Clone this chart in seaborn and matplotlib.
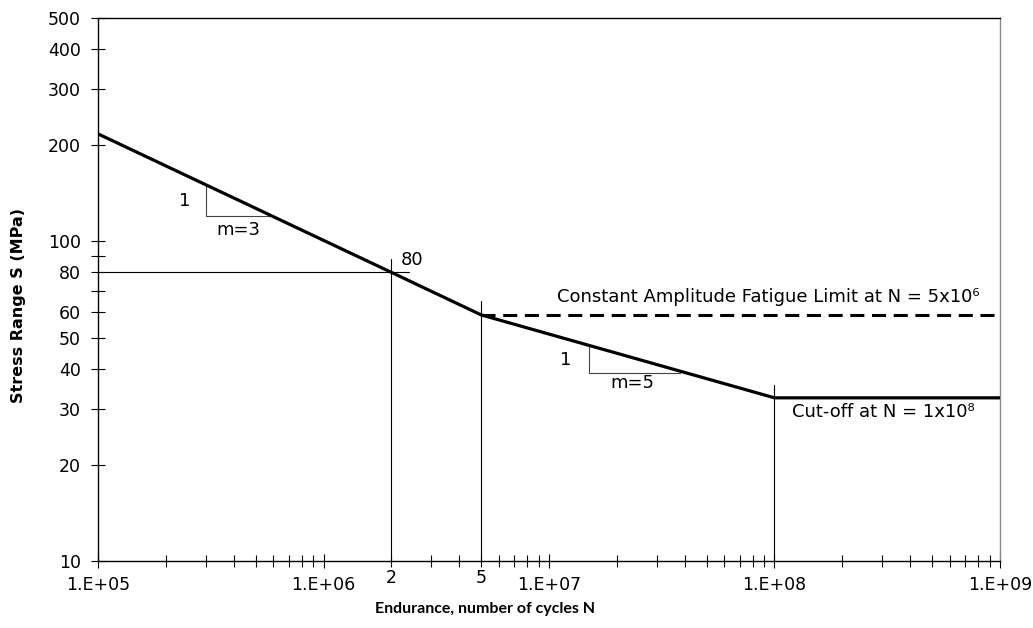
import matplotlib
matplotlib.use("Agg")
import matplotlib.pyplot as plt
import matplotlib.ticker as mticker
from matplotlib import font_manager as fm
import numpy as np
import pandas as pd
import seaborn as sns

# S-N curve values
cycles = [1e5, 2e6, 5e6, 1e8, 1e9]
stress = [217, 80, 58.9, 32.4, 32.4]

cafl_cycles = [5e6, 1e9]
cafl_stress = [58.9, 58.9]

# reference lines (vertical markers) : cycle, top stress
vlines_n = [2e6, 5e6, 1e8]
vlines_top = [88, 65, 35.5]
hline_80 = (80, 2.4e6)

# slope triangles: (x_vertical, y_top, y_bottom, x_end)
tri1 = (3e5, 150.6, 120, 5.8e5)
tri2 = (1.5e7, 47.3, 38.8, 3.8e7)

y_ticks = [10, 20, 30, 40, 50, 60, 70, 80, 90, 100, 200, 300, 400, 500]
y_labels = ["10", "20", "30", "40", "50", "60", "", "80", "", "100", "200", "300", "400", "500"]
x_major = [1e5, 1e6, 1e7, 1e8, 1e9]
x_major_labels = ["1.E+05", "1.E+06", "1.E+07", "1.E+08", "1.E+09"]
x_extra = [2e6, 5e6]
x_extra_labels = ["2", "5"]

sns.set_theme(style="white")
plt.rcParams["font.family"] = ["DejaVu Sans"]
plt.rcParams["text.color"] = "black"
plt.rcParams["axes.labelcolor"] = "black"

fig = plt.figure(figsize=(10.33, 6.28), dpi=100)
ax = fig.add_axes([0.0949, 0.1067, 0.968 - 0.0949, 0.9713 - 0.1067])

df = pd.DataFrame({"N": cycles, "S": stress})
sns.lineplot(data=df, x="N", y="S", ax=ax, color="black", linewidth=2.3, zorder=5)
dfc = pd.DataFrame({"N": cafl_cycles, "S": cafl_stress})
sns.lineplot(data=dfc, x="N", y="S", ax=ax, color="black", linewidth=2.2, zorder=4)
ax.lines[-1].set_dashes([4.6, 2.5])

ax.set_xscale("log")
ax.set_yscale("log")
ax.set_xlim(1e5, 1e9)
ax.set_ylim(10, 500)

thin = dict(color="black", linewidth=0.8, zorder=3)
for n, top in zip(vlines_n, vlines_top):
    ax.plot([n, n], [10, top], **thin)
ax.plot([1e5, hline_80[1]], [hline_80[0], hline_80[0]], **thin)

for (xv, yt, yb, xe) in (tri1, tri2):
    ax.plot([xv, xv, xe], [yt, yb, yb], color="#444444", linewidth=0.8, zorder=3)

fs = 12.5
fa = 13
ax.text(2.58e5, 133.7, "1", ha="right", va="center", fontsize=fa)
ax.text(3.34e5, 108.6, "m=3", ha="left", va="center", fontsize=fa)
ax.text(1.26e7, 42.5, "1", ha="right", va="center", fontsize=fa)
ax.text(1.88e7, 36.1, "m=5", ha="left", va="center", fontsize=fa)
ax.text(2.2e6, 87.5, "80", ha="left", va="center", fontsize=fa)
ax.text(8.15e8, 67, "Constant Amplitude Fatigue Limit at N = 5x10\u2076",
        ha="right", va="center", fontsize=fa)
ax.text(1.2e8, 29.3, "Cut-off at N = 1x10\u2078", ha="left", va="center", fontsize=fa)

# ticks
ax.yaxis.set_major_locator(mticker.FixedLocator(y_ticks))
ax.yaxis.set_major_formatter(mticker.FixedFormatter(y_labels))
ax.yaxis.set_minor_locator(mticker.NullLocator())
ax.xaxis.set_major_locator(mticker.FixedLocator(x_major))
ax.xaxis.set_major_formatter(mticker.FixedFormatter(x_major_labels))
ax.xaxis.set_minor_locator(mticker.LogLocator(base=10, subs=np.arange(2, 10), numticks=20))
ax.xaxis.set_minor_formatter(mticker.NullFormatter())

ax.tick_params(axis="both", which="both", direction="inout", color="black",
               labelsize=fs, width=0.8, labelcolor="black")
ax.tick_params(axis="y", which="major", length=10, pad=7.5)
ax.tick_params(axis="x", which="major", length=10, pad=5.5)
ax.tick_params(axis="x", which="minor", length=8)
ax.xaxis.set_ticks_position("bottom")
ax.yaxis.set_ticks_position("left")

# extra labels "2" and "5" under x axis
for xv, lab in zip(x_extra, x_extra_labels):
    ax.annotate(lab, xy=(xv, 0), xycoords=("data", "axes fraction"),
                xytext=(0, -5.5), textcoords="offset points",
                ha="center", va="top", fontsize=fs)

for side in ["left", "bottom", "top"]:
    ax.spines[side].set_color("black")
    ax.spines[side].set_linewidth(1.0)
ax.spines["right"].set_color("#888888")
ax.spines["right"].set_linewidth(1.0)

# x label: a narrower bold face
names = {f.name for f in fm.fontManager.ttflist}
if "Lato" in names:
    ax.set_xlabel("Endurance, number of cycles N", fontsize=11.5, fontweight="bold",
                  family="Lato")
else:
    ax.set_xlabel("Endurance, number of cycles N", fontsize=10, fontweight="bold")
ax.xaxis.set_label_coords(0.429, -0.088)
ax.xaxis.label.set_va("center")

ax.set_ylabel("Stress Range S (MPa)", fontsize=11.5, fontweight="bold")
ax.yaxis.set_label_coords(-0.0887, 0.47)
ax.yaxis.label.set_va("center")
ax.grid(False)

fig.savefig("out.png", dpi=100)
